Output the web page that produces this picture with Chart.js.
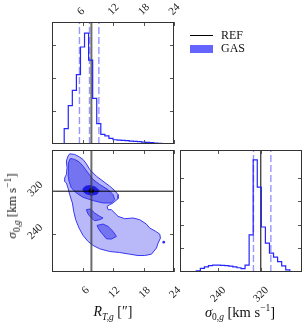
<!DOCTYPE html>
<html>
<head>
<meta charset="utf-8">
<script src="https://cdn.jsdelivr.net/npm/chart.js@4.4.1/dist/chart.umd.min.js"></script>
<style>
  body { margin: 0; background: #fff; }
  #wrap { position: relative; width: 304px; height: 325px; overflow: hidden; font-family: 'Liberation Serif', serif; color: #111; }
  canvas { position: absolute; left: 0; top: 0; }
  .title { position: absolute; white-space: nowrap; font-size: 14px; transform: translate(-50%, -50%); }
  .title sub, .title sup { font-size: 9.5px; line-height: 0; }
  .leg { position: absolute; font-size: 12px; line-height: 12px; }
</style>
</head>
<body>
<div id="wrap">
  <canvas id="histR" width="304" height="325"></canvas>
  <canvas id="contour" width="304" height="325"></canvas>
  <canvas id="histS" width="304" height="325"></canvas>

  <div style="position:absolute;left:190px;top:35px;width:23px;height:1px;background:#000"></div>
  <div class="leg" style="left:221px;top:29px">REF</div>
  <div style="position:absolute;left:190px;top:45px;width:23px;height:8px;background:#6464ff"></div>
  <div class="leg" style="left:221px;top:42px">GAS</div>

  <div class="title" style="left:113px;top:312px"><i>R</i><sub><i>T,g</i></sub> [″]</div>
  <div class="title" style="left:240px;top:312px;font-size:14.5px"><i>σ</i><sub>0,<i>g</i></sub> [km s<sup>−1</sup>]</div>
  <div class="title" style="left:12px;top:206px;font-size:13px;transform:translate(-50%,-50%) rotate(-90deg)"><i>σ</i><sub>0,<i>g</i></sub> [km s<sup>−1</sup>]</div>
</div>
<script>
// axis ranges / ticks
const R_MIN = 0, R_MAX = 24;
const S_MIN = 169, S_MAX = 397;
const rTicks = [6, 12, 18, 24];
const sTicks = [240, 320];
const histRTicks = [1, 2, 3];
const histSTicks = [1, 2, 3, 4];
const HIST_R_TOP = 3.71;
const HIST_S_TOP = 5.18;

// histogram heights (30 bins over each range)
const rCounts = [0, 0, 0, 0, 0.47, 1.17, 1.63, 2.11, 2.95, 3.37, 2.55, 1.39, 0.62, 0.29, 0.25,
  0.17, 0.13, 0.12, 0.11, 0.10, 0.09, 0.08, 0.07, 0.06, 0.05, 0.04, 0.03, 0.02, 0.01, 0];
const sCounts = [0, 0, 0, 0, 0, 0.05, 0.15, 0.22, 0.27, 0.29, 0.29, 0.28, 0.27, 0.25, 0.22,
  0.18, 0.14, 0.29, 1.58, 4.76, 3.6, 1.91, 1.23, 0.8, 0.63, 0.44, 0.26, 0.09, 0.02, 0];

// reference values and quantiles
const rRef = 7.75, sRef = 320;
const rQuant = [5.4, 7.38, 9.22];
const sQuant = [306.3, 338.8];

// 2d contour levels [R, sigma]
const outerLevel = [[3.48, 389.9], [4.47, 388.7], [5.45, 383.7], [6.11, 379.3], [6.76, 371.2], [7.42, 360.5],
  [8.73, 348.0], [10.04, 338.7], [11.36, 329.3], [12.34, 321.1], [13.0, 313.6], [13.0, 306.1], [12.01, 298.0],
  [11.36, 294.9], [10.83, 291.8], [11.03, 285.5], [11.68, 285.5], [13.0, 273.0], [14.31, 268.6], [15.95, 269.9],
  [17.26, 266.7], [18.57, 258.6], [19.23, 251.1], [20.41, 244.9], [21.2, 239.8], [21.33, 232.3], [20.87, 223.0],
  [20.54, 213.6], [19.56, 202.3], [18.24, 199.8], [16.93, 199.8], [15.29, 202.3], [13.32, 205.4], [11.36, 207.3],
  [9.39, 212.3], [8.08, 218.6], [7.09, 226.1], [6.11, 237.3], [5.32, 251.1], [4.66, 266.7], [4.27, 282.4],
  [4.01, 298.0], [3.48, 313.6], [3.15, 326.1], [2.83, 335.5], [2.43, 338.7], [2.5, 344.9], [2.83, 351.2],
  [2.96, 363.7], [2.83, 376.2], [3.15, 385.6]];
const midLevel = [[3.61, 381.2], [4.47, 379.3], [5.32, 374.9], [6.11, 366.8], [7.09, 354.3], [8.08, 341.8],
  [9.39, 332.4], [11.03, 323.0], [12.01, 313.6], [12.34, 304.3], [11.68, 298.0], [10.04, 298.0], [8.08, 302.4],
  [6.11, 308.6], [4.79, 316.8], [3.81, 326.1], [3.35, 338.7], [3.15, 351.2], [3.22, 363.7], [3.22, 373.1]];
const midIslandA = [[6.76, 285.5], [7.55, 286.8], [8.40, 279.2], [9.39, 273.0], [10.04, 269.9], [9.39, 266.7],
  [8.40, 264.9], [7.75, 269.9], [7.09, 277.4]];
const midIslandB = [[8.86, 256.1], [10.04, 258.6], [11.03, 254.2], [12.01, 244.9], [12.67, 235.5], [11.68, 230.5],
  [10.70, 231.1], [10.04, 238.6], [9.26, 248.0]];
const innerLevel = [[6.11, 324.9], [6.63, 329.3], [7.55, 330.5], [8.60, 327.4], [9.26, 321.1], [8.86, 314.9],
  [7.75, 312.4], [6.63, 315.5], [6.11, 319.9]];
const coreLevel = [[7.29, 321.1], [7.48, 324.3], [7.88, 324.9], [8.21, 321.8], [8.08, 318.0], [7.68, 316.8], [7.35, 318.6]];
const strayPoint = [[21.98, 224.8]];

Chart.defaults.font.family = "'Liberation Serif', serif";
Chart.defaults.font.size = 11;
Chart.defaults.color = '#222';

const BLUE = '#2424ff';
const QCOL = 'rgba(80, 80, 255, 0.6)';

// box + inward ticks on all four sides
const framePlugin = {
  id: 'frame',
  afterDatasetsDraw(chart) {
    const { ctx, chartArea: a, scales } = chart;
    ctx.save();
    ctx.strokeStyle = '#555';
    ctx.lineWidth = 1;
    ctx.beginPath();
    scales.x.ticks.forEach((t) => {
      const p = Math.round(scales.x.getPixelForValue(t.value)) + 0.5;
      ctx.moveTo(p, a.top); ctx.lineTo(p, a.top + 4);
      ctx.moveTo(p, a.bottom); ctx.lineTo(p, a.bottom - 4);
    });
    scales.y.ticks.forEach((t) => {
      const p = Math.round(scales.y.getPixelForValue(t.value)) + 0.5;
      ctx.moveTo(a.left, p); ctx.lineTo(a.left + 4, p);
      ctx.moveTo(a.right, p); ctx.lineTo(a.right - 4, p);
    });
    ctx.stroke();
    ctx.strokeStyle = '#333';
    ctx.strokeRect(a.left + 0.5, a.top + 0.5, a.right - a.left - 1, a.bottom - a.top - 1);
    ctx.restore();
  },
};

function fixedTicks(values) {
  return (scale) => { scale.ticks = values.map((v) => ({ value: v })); };
}
// fixed axis box size, so the label band is known and chart areas line up
function fixedSize(size) {
  return (scale) => {
    if (scale.isHorizontal()) scale.height = size; else scale.width = size;
  };
}
function axis(min, max, ticks, labels, size, extra, tickExtra) {
  return Object.assign({
    type: 'linear',
    min,
    max,
    afterBuildTicks: fixedTicks(ticks),
    afterFit: fixedSize(size),
    grid: { display: false, drawTicks: false },
    border: { display: false },
    ticks: Object.assign({ display: labels, autoSkip: false, minRotation: 45, maxRotation: 45, padding: 4 },
      tickExtra || {}),
  }, extra || {});
}

function stepPoints(lo, hi, counts) {
  const w = (hi - lo) / counts.length;
  const pts = [{ x: lo, y: 0 }];
  counts.forEach((c, i) => pts.push({ x: lo + i * w, y: c }));
  pts.push({ x: hi, y: counts[counts.length - 1] });
  pts.push({ x: hi, y: 0 });
  return pts;
}
function vline(x, y0, y1, color, width, dash) {
  return { data: [{ x, y: y0 }, { x, y: y1 }], showLine: true, borderColor: color, borderWidth: width,
    borderDash: dash || [], pointRadius: 0, fill: false };
}
function hline(y, x0, x1, color, width) {
  return { data: [{ x: x0, y }, { x: x1, y }], showLine: true, borderColor: color, borderWidth: width,
    pointRadius: 0, fill: false };
}
function polygon(pts, fillColor, lineColor, width) {
  return { data: pts.concat([pts[0]]).map(([x, y]) => ({ x, y })), showLine: true, fill: 'shape',
    backgroundColor: fillColor, borderColor: lineColor, borderWidth: width, pointRadius: 0, tension: 0 };
}
// datasets listed bottom-first; give later ones a lower order so they draw on top
function layered(list) {
  return list.map((d, i) => Object.assign(d, { order: list.length - i }));
}

const base = { responsive: false, animation: false, devicePixelRatio: 1,
  plugins: { legend: { display: false }, tooltip: { enabled: false } } };

// top-left: R histogram
new Chart(document.getElementById('histR'), {
  type: 'scatter',
  data: {
    datasets: layered([
      ...rQuant.map((q) => vline(q, 0, HIST_R_TOP, QCOL, 1.4, [7, 3])),
      vline(rRef, 0, HIST_R_TOP, 'rgba(60,60,60,0.75)', 2),
      { data: stepPoints(R_MIN, R_MAX, rCounts), showLine: true, stepped: 'after', borderColor: BLUE,
        borderWidth: 1.2, pointRadius: 0, fill: false },
    ]),
  },
  options: Object.assign({}, base, {
    layout: { padding: { left: 52, top: 0, right: 130, bottom: 181 } },
    scales: {
      x: axis(R_MIN, R_MAX, rTicks, true, 22, { position: 'top' }, { padding: 4, labelOffset: 6 }),
      y: axis(0, HIST_R_TOP, histRTicks, false, 0),
    },
  }),
  plugins: [framePlugin],
});

// bottom-left: 2d contours
new Chart(document.getElementById('contour'), {
  type: 'scatter',
  data: {
    datasets: layered([
      polygon(outerLevel, '#b9b9fa', '#3636f2', 1),
      polygon(midLevel, '#7474f0', '#3636f2', 1),
      polygon(midIslandA, '#7474f0', '#3636f2', 1),
      polygon(midIslandB, '#7474f0', '#3636f2', 1),
      polygon(innerLevel, '#1c1ce0', '#1c1ce0', 1),
      polygon(coreLevel, '#000018', '#000018', 1),
      { data: strayPoint.map(([x, y]) => ({ x, y })), pointRadius: 1.3, pointBackgroundColor: BLUE,
        pointBorderWidth: 0 },
      vline(rRef, S_MIN, S_MAX, 'rgba(60,60,60,0.75)', 2),
      hline(sRef, R_MIN, R_MAX, '#000', 1),
    ]),
  },
  options: Object.assign({}, base, {
    layout: { padding: { left: 0, top: 150, right: 130, bottom: 0 } },
    scales: {
      x: axis(R_MIN, R_MAX, rTicks, true, 53, { position: 'bottom' }, { padding: 12, labelOffset: 5 }),
      y: axis(S_MIN, S_MAX, sTicks, true, 52, { position: 'left' }, { padding: 11, labelOffset: -8 }),
    },
  }),
  plugins: [framePlugin],
});

// bottom-right: sigma histogram
new Chart(document.getElementById('histS'), {
  type: 'scatter',
  data: {
    datasets: layered([
      ...sQuant.map((q) => vline(q, 0, HIST_S_TOP, QCOL, 1.4, [7, 3])),
      vline(sRef, 0, HIST_S_TOP, '#000', 1),
      { data: stepPoints(S_MIN, S_MAX, sCounts), showLine: true, stepped: 'after', borderColor: BLUE,
        borderWidth: 1.2, pointRadius: 0, fill: false },
    ]),
  },
  options: Object.assign({}, base, {
    layout: { padding: { left: 180, top: 150, right: 2, bottom: 0 } },
    scales: {
      x: axis(S_MIN, S_MAX, sTicks, true, 53, { position: 'bottom' }, { padding: 12, labelOffset: 6 }),
      y: axis(0, HIST_S_TOP, histSTicks, false, 0),
    },
  }),
  plugins: [framePlugin],
});
</script>
</body>
</html>
